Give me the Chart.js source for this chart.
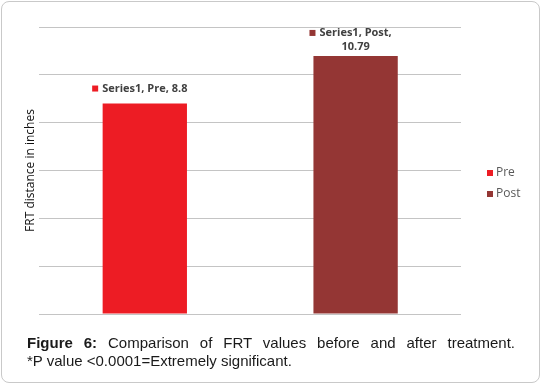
<!DOCTYPE html>
<html>
<head>
<meta charset="utf-8">
<script src="https://cdn.jsdelivr.net/npm/chart.js@4.4.1/dist/chart.umd.min.js"></script>
<style>
    html, body { margin: 0; padding: 0; background: #fff; }
    #wrap { position: relative; width: 542px; height: 385px; overflow: hidden; }
    #frame { position: absolute; left: 1px; top: 1px; width: 537px; height: 380px;
             border: 1px solid #c9c9c9; border-radius: 8px; }
    #chart { position: absolute; left: 0; top: 0; }
    #caption { position: absolute; left: 27px; top: 334px; width: 488px;
               font: 15px "Liberation Sans", Arial, sans-serif; line-height: 18px; color: #1a1a1a; }
    #caption .l1 { text-align: justify; text-align-last: justify; white-space: nowrap; }
    #caption b { font-weight: bold; }
</style>
</head>
<body>
<div id="wrap">
    <div id="frame"></div>
    <canvas id="chart" width="542" height="385"></canvas>
    <div id="caption">
        <div class="l1"><b>Figure 6:</b> Comparison of FRT values before and after treatment.</div>
        <div>*P value &lt;0.0001=Extremely significant.</div>
    </div>
</div>
<script>
// Chart data
const categories = ['Pre', 'Post'];
const seriesName = 'Series1';
const frtValues = [8.8, 10.79];
const barColors = ['#ED1C24', '#943634'];
const yTicks = [0, 2, 4, 6, 8, 10, 12];

document.addEventListener('DOMContentLoaded', function () {

    // Excel-style data labels: "Series1, Pre, 8.8" with a colour key.
    const barLabels = {
        id: 'barLabels',
        afterDatasetsDraw: function (chart) {
            const ctx = chart.ctx;
            const meta = chart.getDatasetMeta(0);
            const ds = chart.data.datasets[0];
            ctx.save();
            ctx.font = 'bold 11px "Open Sans", "Liberation Sans", sans-serif';
            ctx.fillStyle = '#404040';
            ctx.textBaseline = 'middle';
            meta.data.forEach(function (bar, i) {
                const full = ds.label + ', ' + chart.data.labels[i] + ', ' + ds.data[i];
                let lines = [full];
                if (ctx.measureText(full).width > 95) {
                    lines = [ds.label + ', ' + chart.data.labels[i] + ',', String(ds.data[i])];
                }
                const lineH = 14;
                const cx = bar.x - 5;
                const bottomY = bar.y - (lines.length > 1 ? 9 : 15);
                lines.forEach(function (txt, j) {
                    const y = bottomY - (lines.length - 1 - j) * lineH;
                    const w = ctx.measureText(txt).width;
                    if (j === 0) {
                        const total = w + 10;
                        const x0 = cx - total / 2;
                        ctx.fillStyle = ds.backgroundColor[i];
                        ctx.fillRect(x0, y - 3, 6, 6);
                        ctx.fillStyle = '#404040';
                        ctx.textAlign = 'left';
                        ctx.fillText(txt, x0 + 10, y);
                    } else {
                        ctx.textAlign = 'center';
                        ctx.fillText(txt, cx + 5, y);
                    }
                });
            });
            ctx.restore();
        }
    };

    // Legend on the right, one entry per category.
    const sideLegend = {
        id: 'sideLegend',
        afterDraw: function (chart) {
            const ctx = chart.ctx;
            const ds = chart.data.datasets[0];
            ctx.save();
            ctx.font = '12px "Open Sans", "Liberation Sans", sans-serif';
            ctx.textBaseline = 'middle';
            ctx.textAlign = 'left';
            chart.data.labels.forEach(function (lab, i) {
                const y = 173 + i * 21;
                ctx.fillStyle = ds.backgroundColor[i];
                ctx.fillRect(487, y - 3, 6, 6);
                ctx.fillStyle = '#595959';
                ctx.fillText(lab, 496, y);
            });
            ctx.restore();
        }
    };

    new Chart(document.getElementById('chart'), {
        type: 'bar',
        data: {
            labels: categories,
            datasets: [{
                label: seriesName,
                data: frtValues,
                backgroundColor: barColors,
                borderWidth: 0,
                categoryPercentage: 1,
                barPercentage: 0.4
            }]
        },
        options: {
            responsive: false,
            animation: false,
            layout: { padding: { left: 17, right: 81, top: 27, bottom: 71 } },
            plugins: { legend: { display: false }, tooltip: { enabled: false } },
            scales: {
                x: {
                    ticks: { display: false },
                    grid: { display: false, drawTicks: false },
                    border: { display: false }
                },
                y: {
                    min: yTicks[0],
                    max: yTicks[yTicks.length - 1],
                    afterBuildTicks: function (scale) {
                        scale.ticks = yTicks.map(function (v) { return { value: v }; });
                    },
                    ticks: { display: false },
                    grid: { color: '#c4c4c4', lineWidth: 1, drawTicks: false },
                    border: { display: false },
                    title: {
                        display: true,
                        text: 'FRT distance in inches',
                        color: '#111111',
                        font: { size: 12, family: '"Open Sans", "Liberation Sans", sans-serif' },
                        padding: { top: 6, bottom: 2 }
                    }
                }
            }
        },
        plugins: [barLabels, sideLegend]
    });
});
</script>
</body>
</html>
